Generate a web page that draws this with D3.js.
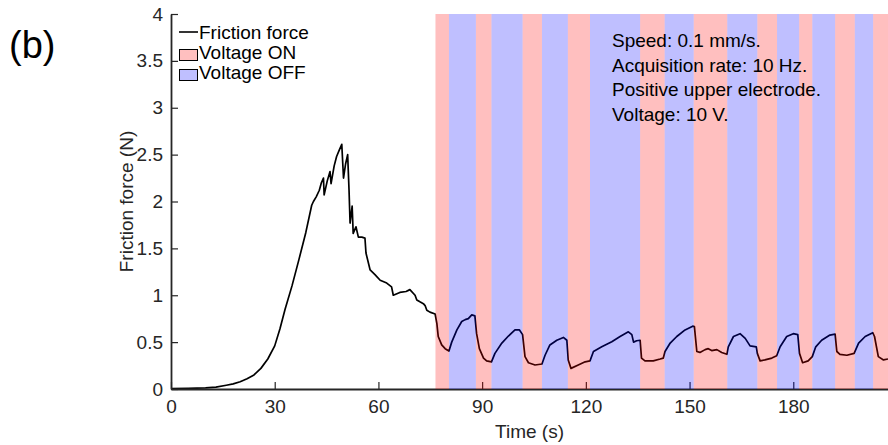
<!DOCTYPE html>
<html>
<head>
<meta charset="utf-8">
<script src="https://cdn.jsdelivr.net/npm/d3@7/dist/d3.min.js"></script>
<style>
  html, body { margin: 0; padding: 0; background: #fff; }
  svg { display: block; font-family: "Liberation Sans", Arial, Helvetica, sans-serif; }
</style>
</head>
<body>
<svg id="chart" width="888" height="445"></svg>
<script>
// ---- data ----
const timeS = [0,5,10,13,16,18,20,22,24,26,28,30,31.5,33,35,37,39,40.7,41.2,42.0,42.9,43.5,44.1,44.3,45.2,46.0,46.3,47.2,47.9,48.7,49.4,49.9,50.5,51.1,51.5,51.8,52.4,52.7,53.5,54.2,55.2,56.1,56.4,57.6,59.0,60.5,62.4,63.8,64.3,66.2,68.0,69.1,70.6,71.1,72.0,73.0,73.5,74.0,74.9,76.4,76.9,77.3,78.3,79.3,80.4,81.2,82.7,84.1,85.1,86.0,87.0,87.9,88.4,89.2,90.4,91.3,92.7,93.7,95.7,97.6,99.5,100.8,101.7,102.4,103.4,105.3,107.3,108.2,109.6,111.6,113.5,114.5,114.9,115.7,117.8,119.8,121.2,122.2,124.6,127.5,129.9,132.3,133.3,133.8,134.7,135.7,136.1,137.1,139.5,141.5,142.4,142.9,144.4,146.3,148.7,150.9,151.4,152.1,153.0,154.5,155.4,156.4,157.9,159.3,160.8,161.2,162.7,164.6,166.1,167.5,169.3,169.6,170.4,171.8,173.8,175.2,176.2,178.1,180.0,181.3,181.8,182.7,184.3,185.5,186.5,188.2,190.6,192.1,192.6,193.5,195.5,197.6,198.9,200.8,203.0,203.5,204.6,206.1,207.4];
const forceN = [0.005,0.007,0.012,0.02,0.04,0.055,0.078,0.11,0.15,0.22,0.32,0.46,0.64,0.85,1.1,1.38,1.67,1.96,2.0,2.05,2.12,2.2,2.25,2.07,2.22,2.32,2.19,2.38,2.48,2.55,2.61,2.25,2.40,2.50,2.12,1.77,1.95,1.66,1.73,1.62,1.62,1.61,1.45,1.27,1.22,1.16,1.13,1.09,1.00,1.03,1.04,1.06,1.00,0.95,0.93,0.91,0.89,0.84,0.82,0.80,0.70,0.56,0.47,0.43,0.405,0.50,0.63,0.72,0.74,0.75,0.79,0.78,0.59,0.43,0.33,0.30,0.29,0.38,0.49,0.565,0.63,0.63,0.58,0.345,0.28,0.256,0.267,0.36,0.47,0.52,0.55,0.52,0.31,0.22,0.256,0.29,0.30,0.40,0.45,0.505,0.56,0.61,0.58,0.50,0.515,0.52,0.33,0.30,0.30,0.32,0.33,0.40,0.49,0.56,0.63,0.67,0.665,0.40,0.39,0.42,0.43,0.41,0.42,0.39,0.37,0.45,0.56,0.59,0.54,0.46,0.45,0.38,0.30,0.31,0.33,0.355,0.45,0.56,0.59,0.58,0.38,0.28,0.30,0.345,0.45,0.52,0.575,0.585,0.40,0.37,0.36,0.38,0.49,0.56,0.60,0.56,0.345,0.31,0.32];

const onStarts  = [76.5, 88.2, 101.7, 114.8, 135.7, 151.2, 169.6, 181.7, 192.1, 203.1];
const onEnds    = [80.4, 92.7, 107.3, 121.2, 142.8, 160.9, 175.3, 185.5, 197.8, 207.4];
const offStarts = [80.4, 92.7, 107.3, 121.2, 142.8, 160.9, 175.3, 185.5, 197.8];
const offEnds   = [88.2, 101.7, 114.8, 135.7, 151.2, 169.6, 181.7, 192.1, 203.1];

const xTicks = [0, 30, 60, 90, 120, 150, 180];
const yTicks = [0, 0.5, 1, 1.5, 2, 2.5, 3, 3.5, 4];
const yTickLabels = ["0", "0.5", "1", "1.5", "2", "2.5", "3", "3.5", "4"];

const legendLabels = ["Friction force", "Voltage ON", "Voltage OFF"];
const noteLines = ["Speed: 0.1 mm/s.", "Acquisition rate: 10 Hz.", "Positive upper electrode.", "Voltage: 10 V."];
const panelLabel = "(b)";
const xLabel = "Time (s)";
const yLabel = "Friction force (N)";

// ---- layout ----
const svg = d3.select("#chart");
const mLeft = 171, mRight = 888, mTop = 14, mBottom = 389;
const xMax = 207.4;
const x = d3.scaleLinear().domain([0, xMax]).range([mLeft, mRight]);
const y = d3.scaleLinear().domain([0, 4]).range([mBottom, mTop]);
const axisColor = "#262626";
const fontSize = 19;

// line
const pts = timeS.map((t, i) => [t, forceN[i]]);
svg.append("path")
  .datum(pts)
  .attr("fill", "none")
  .attr("stroke", "#000")
  .attr("stroke-width", 1.7)
  .attr("stroke-linejoin", "round")
  .attr("d", d3.line().x(d => x(d[0])).y(d => y(d[1])));

// axes
const yAxis = svg.append("g")
  .attr("transform", `translate(${mLeft},0)`)
  .call(d3.axisLeft(y).tickValues(yTicks).tickFormat((d, i) => yTickLabels[i])
        .tickSizeInner(-7).tickSizeOuter(0).tickPadding(8));
const xAxis = svg.append("g")
  .attr("transform", `translate(0,${mBottom})`)
  .call(d3.axisBottom(x).tickValues(xTicks).tickFormat(d3.format("d"))
        .tickSizeInner(-7).tickSizeOuter(0).tickPadding(11));
[yAxis, xAxis].forEach(g => {
  g.select(".domain").attr("stroke", axisColor).attr("stroke-width", 1.8);
  g.selectAll(".tick line").attr("stroke", axisColor).attr("stroke-width", 1.2);
  g.selectAll(".tick text").attr("fill", axisColor).attr("font-size", fontSize)
    .attr("font-family", "'Liberation Sans', Arial, sans-serif");
});

// bands (on top, translucent)
const bands = svg.append("g");
bands.selectAll("rect.on").data(onStarts.map((s, i) => [s, onEnds[i]])).join("rect")
  .attr("class", "on")
  .attr("x", d => x(d[0])).attr("width", d => x(d[1]) - x(d[0]))
  .attr("y", y(4)).attr("height", y(0) - y(4))
  .attr("fill", "#ff0000").attr("fill-opacity", 0.25);
bands.selectAll("rect.off").data(offStarts.map((s, i) => [s, offEnds[i]])).join("rect")
  .attr("class", "off")
  .attr("x", d => x(d[0])).attr("width", d => x(d[1]) - x(d[0]))
  .attr("y", y(4)).attr("height", y(0) - y(4))
  .attr("fill", "#0000ff").attr("fill-opacity", 0.25);

// axis labels
svg.append("text")
  .attr("x", (mLeft + mRight) / 2).attr("y", 438)
  .attr("text-anchor", "middle").attr("font-size", fontSize).attr("fill", axisColor)
  .text(xLabel);
svg.append("text")
  .attr("transform", `translate(133,${(mTop + mBottom) / 2}) rotate(-90)`)
  .attr("text-anchor", "middle").attr("font-size", fontSize).attr("fill", axisColor)
  .text(yLabel);

// panel label
svg.append("text")
  .attr("x", 9).attr("y", 58)
  .attr("font-size", 38).attr("fill", "#000")
  .text(panelLabel);

// legend
const lg = svg.append("g");
lg.append("line").attr("x1", 179).attr("x2", 198).attr("y1", 32).attr("y2", 32)
  .attr("stroke", "#000").attr("stroke-width", 1.6);
lg.append("rect").attr("x", 179.5).attr("y", 49.5).attr("width", 18).attr("height", 11)
  .attr("fill", "#ffbfbf").attr("stroke", "#000").attr("stroke-width", 1);
lg.append("rect").attr("x", 179.5).attr("y", 69.5).attr("width", 18).attr("height", 11)
  .attr("fill", "#bfbfff").attr("stroke", "#000").attr("stroke-width", 1);
lg.selectAll("text").data(legendLabels).join("text")
  .attr("x", 199).attr("y", (d, i) => 38.5 + i * 20)
  .attr("font-size", fontSize).attr("fill", "#000")
  .text(d => d);

// notes
svg.append("g").selectAll("text").data(noteLines).join("text")
  .attr("x", 612).attr("y", (d, i) => 46.7 + i * 24.8)
  .attr("font-size", fontSize).attr("fill", "#000")
  .text(d => d);
</script>
</body>
</html>
